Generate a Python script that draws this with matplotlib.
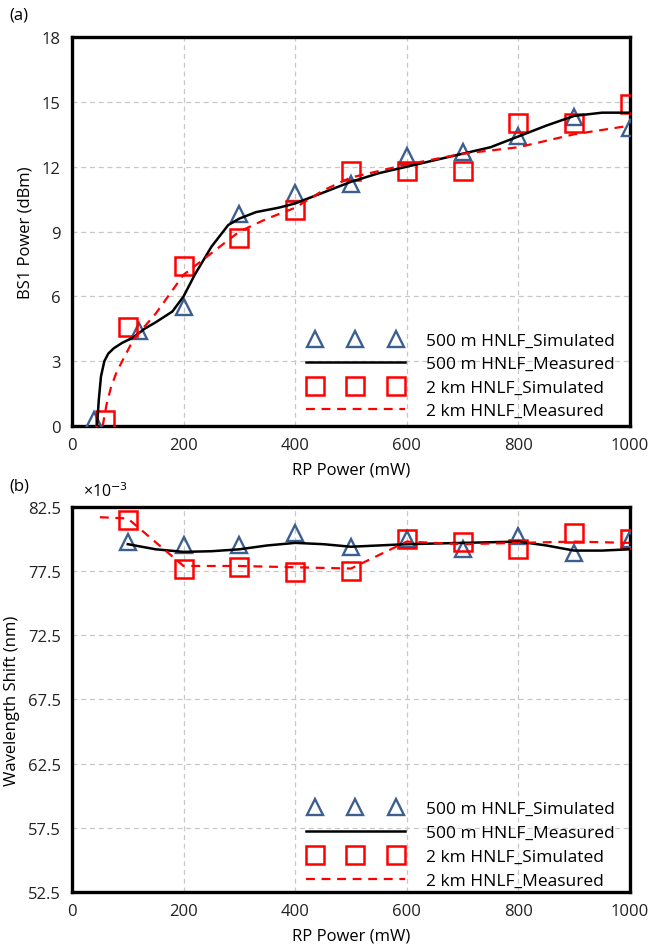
import matplotlib
matplotlib.use("Agg")
import matplotlib.pyplot as plt
from matplotlib.legend_handler import HandlerLine2D

plt.rcParams['font.family'] = ['Open Sans', 'DejaVu Sans']

# ---------- Panel (a): BS1 power ----------
a_tri_x = [40, 120, 200, 300, 400, 500, 600, 700, 800, 900, 1000]
a_tri_y = [0.3, 4.4, 5.5, 9.8, 10.8, 11.2, 12.5, 12.7, 13.4, 14.3, 13.8]
a_sq_x = [60, 100, 200, 300, 400, 500, 600, 700, 800, 900, 1000]
a_sq_y = [0.3, 4.6, 7.4, 8.7, 10.0, 11.8, 11.8, 11.8, 14.0, 14.0, 14.9]
a_line_x = [45, 48, 52, 58, 65, 75, 90, 110, 130, 150, 180, 200, 220, 250, 280, 300,
            330, 370, 400, 450, 500, 550, 600, 650, 700, 750, 800, 850, 900, 950, 1000]
a_line_y = [0.0, 1.2, 2.3, 3.0, 3.35, 3.6, 3.85, 4.1, 4.5, 4.8, 5.3, 6.0, 7.0, 8.3, 9.3, 9.6,
            9.9, 10.1, 10.3, 10.8, 11.3, 11.7, 12.0, 12.3, 12.6, 12.9, 13.4, 13.9, 14.35, 14.5, 14.5]
a_dash_x = [55, 62, 70, 80, 90, 110, 130, 150, 200, 250, 300, 350, 400, 450, 500, 550, 600,
            700, 800, 900, 1000]
a_dash_y = [0.0, 1.0, 1.8, 2.5, 3.0, 4.0, 4.6, 5.2, 7.0, 8.0, 9.0, 9.6, 10.1, 10.9, 11.5, 11.8,
            12.1, 12.6, 12.9, 13.5, 13.9]

# ---------- Panel (b): wavelength shift (x1e-3 nm) ----------
b_tri_x = [100, 200, 300, 400, 500, 600, 700, 800, 900, 1000]
b_tri_y = [79.8, 79.5, 79.5, 80.5, 79.4, 80.0, 79.2, 80.2, 78.9, 80.0]
b_sq_x = [100, 200, 300, 400, 500, 600, 700, 800, 900, 1000]
b_sq_y = [81.5, 77.7, 77.8, 77.4, 77.5, 80.0, 79.8, 79.2, 80.5, 80.0]
b_line_x = [100, 150, 200, 250, 300, 350, 400, 450, 500, 550, 600, 700, 800, 850, 900, 950, 1000]
b_line_y = [79.6, 79.2, 79.0, 79.05, 79.2, 79.5, 79.7, 79.6, 79.4, 79.5, 79.6, 79.7, 79.8, 79.5, 79.1, 79.1, 79.2]
b_dash_x = [50, 100, 200, 300, 400, 500, 600, 700, 800, 900, 1000]
b_dash_y = [81.7, 81.6, 77.9, 77.9, 77.8, 77.7, 79.8, 79.6, 79.7, 79.8, 79.7]

labels = ["500 m HNLF_Simulated", "500 m HNLF_Measured",
          "2 km HNLF_Simulated", "2 km HNLF_Measured"]
a_yticks = [0, 3, 6, 9, 12, 15, 18]
b_yticks = [52.5, 57.5, 62.5, 67.5, 72.5, 77.5, 82.5]
x_ticks = [0, 200, 400, 600, 800, 1000]

TRI_C = '#3d5f8f'
RED = '#ff0000'

fig = plt.figure(figsize=(6.52, 9.53), dpi=100)
ax1 = fig.add_axes([0.1104, 0.5519, 0.8558, 0.4082])
ax2 = fig.add_axes([0.1104, 0.0630, 0.8558, 0.4040])


def draw(ax, tx, ty, sx, sy, lx, ly, dx, dy, yticks, ylim, ylabel, leg_anchor, lspace):
    h1, = ax.plot(tx, ty, linestyle='none', marker='^', markersize=11.5, mfc='none',
                  mec=TRI_C, mew=1.7, zorder=3)
    h2, = ax.plot(lx, ly, color='black', lw=1.8, zorder=4)
    h3, = ax.plot(sx, sy, linestyle='none', marker='s', markersize=12.5, mfc='none',
                  mec=RED, mew=1.8, zorder=3)
    h4, = ax.plot(dx, dy, color=RED, lw=1.6, ls=(0, (4, 3)), zorder=4)
    ax.set_xlim(0, 1000)
    ax.set_ylim(*ylim)
    ax.set_xticks(x_ticks)
    ax.set_yticks(yticks)
    ax.set_yticklabels([('%g' % v) if isinstance(v, int) else ('%.1f' % v) for v in yticks])
    ax.grid(True, color='#c8c8c8', ls=(0, (4, 3)), lw=0.9)
    ax.set_axisbelow(True)
    ax.tick_params(length=0, labelsize=12, pad=8, colors='#222222')
    for s in ax.spines.values():
        s.set_linewidth(2.4)
        s.set_color('black')
    ax.set_xlabel('RP Power (mW)', fontsize=12, labelpad=6)
    ax.set_ylabel(ylabel, fontsize=12, labelpad=6)
    hm = {h1: HandlerLine2D(numpoints=3, marker_pad=0.8),
          h3: HandlerLine2D(numpoints=3, marker_pad=0.8)}
    ax.legend([h1, h2, h3, h4], labels, loc='lower right', bbox_to_anchor=leg_anchor,
              frameon=False, numpoints=3, handlelength=6.3, handletextpad=0.9,
              labelspacing=lspace, fontsize=12.5, borderaxespad=0.0, handler_map=hm)


draw(ax1, a_tri_x, a_tri_y, a_sq_x, a_sq_y, a_line_x, a_line_y, a_dash_x, a_dash_y,
     a_yticks, (0, 18), 'BS1 Power (dBm)', (0.985, 0.0), 0.42)
draw(ax2, b_tri_x, b_tri_y, b_sq_x, b_sq_y, b_line_x, b_line_y, b_dash_x, b_dash_y,
     b_yticks, (52.5, 82.5), 'Wavelength Shift (nm)', (0.985, -0.01), 0.45)

fig.text(0.015, 0.984, '(a)', fontsize=12, va='center', ha='left')
fig.text(0.015, 0.489, '(b)', fontsize=12, va='center', ha='left')
fig.text(0.128, 0.484, r'×10$^{-3}$', fontsize=11.5, va='center', ha='left')

fig.savefig('out.png', dpi=100)
